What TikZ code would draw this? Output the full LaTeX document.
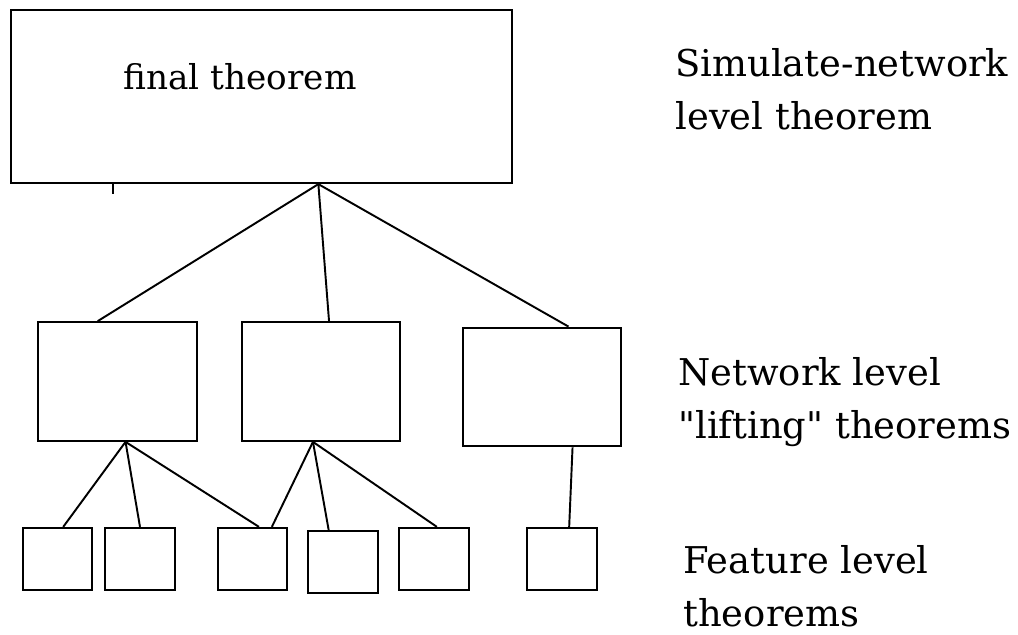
\documentclass[tikz,border=0pt]{standalone}
\usepackage{fontspec}
\setmainfont{DejaVu Serif}
\usetikzlibrary{calc}

\begin{document}
\begin{tikzpicture}[
  x=0.02cm, y=-0.02cm,
  big/.style={rectangle, draw, line width=1.3pt,
              minimum width=10.02cm, minimum height=3.46cm},
  net/.style={rectangle, draw, line width=1.3pt,
              minimum width=3.17cm, minimum height=2.37cm},
  feat/.style={rectangle, draw, line width=1.3pt,
               minimum width=1.39cm, minimum height=1.24cm},
  link/.style={line width=1.1pt},
  note/.style={anchor=north west, inner sep=0pt, align=left,
               font=\fontsize{21}{30.5}\selectfont},
]
\useasboundingbox (0,0) rectangle (1018,635);

% top level
\node[big] (final) at (261.5,96.5) {};
\node[anchor=base, font=\fontsize{19.5}{28}\selectfont] (finaltxt) at (240,90) {final theorem};

% network level
\node[net] (netA) at (117.5,381.5) {};
\node[net] (netB) at (321,381.5) {};
\node[net] (netC) at (542,387) {};

% feature level
\node[feat] (f1) at (57.5,559) {};
\node[feat] (f2) at (140,559) {};
\node[feat] (f3) at (252.5,559) {};
\node[feat] (f4) at (343,562) {};
\node[feat] (f5) at (434,559) {};
\node[feat] (f6) at (562,559) {};

% level names
\node[note] (simnote) at (675,48) {Simulate-network\\level theorem};
\node[note] (netnote) at (678,357) {Network level\\\textquotedbl lifting\textquotedbl{} theorems};
\node[note] (featnote) at (683,545) {Feature level\\theorems};

% edges: parent bottom point -> child top point
\foreach \a/\p/\b/\q in {final/.613/netA/.377, final/.613/netB/.55,
                         final/.613/netC/.665,
                         netA/.55/f1/.58, netA/.55/f2/.5, netA/.55/f3/.59,
                         netB/.45/f3/.77, netB/.45/f4/.3, netB/.45/f5/.54,
                         netC/.69/f6/.6}
  \draw[link] ($(\a.south west)!\p!(\a.south east)$)
           -- ($(\b.north west)!\q!(\b.north east)$);

\draw[link] ($(final.south west)!.204!(final.south east)$) -- ++(0,10);
\end{tikzpicture}
\end{document}
